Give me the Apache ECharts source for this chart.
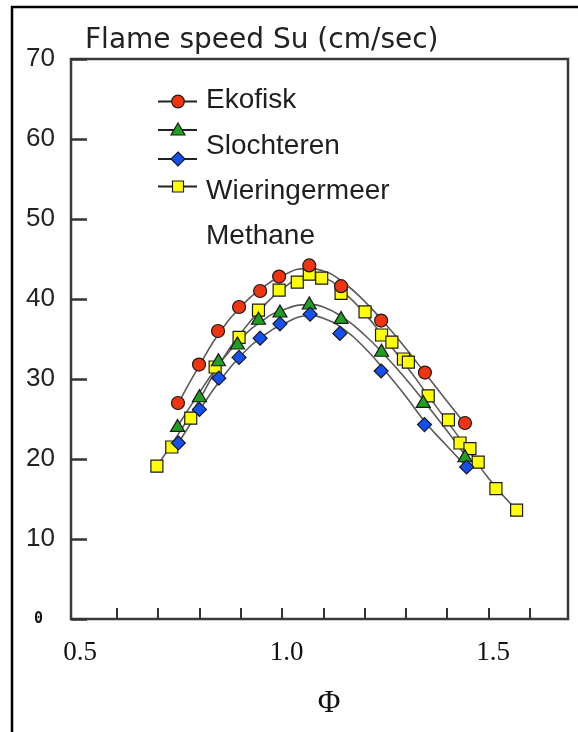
<!DOCTYPE html>
<html>
<head>
<meta charset="utf-8">
<script src="https://cdn.jsdelivr.net/npm/echarts@6/dist/echarts.min.js"></script>
<style>
  html, body { margin: 0; padding: 0; background: #fff; }
  #chart { width: 578px; height: 732px; }
</style>
</head>
<body>
<div id="chart"></div>
<script>
// Laminar flame speed Su (cm/sec) against equivalence ratio Φ

// Measured points, one pair of arrays per gas
const ekofiskPhi = [0.748, 0.799, 0.845, 0.896, 0.947, 0.993, 1.066, 1.143, 1.240, 1.346, 1.443];
const ekofiskSu  = [27.0, 31.8, 36.0, 39.0, 41.0, 42.8, 44.2, 41.6, 37.3, 30.8, 24.5];

const slochterenPhi = [0.747, 0.800, 0.846, 0.892, 0.943, 0.995, 1.066, 1.143, 1.241, 1.342, 1.443];
const slochterenSu  = [24.2, 27.9, 32.4, 34.5, 37.6, 38.5, 39.5, 37.7, 33.6, 27.2, 20.4];

const methanePhi = [0.749, 0.800, 0.847, 0.896, 0.947, 0.995, 1.068, 1.140, 1.240, 1.345, 1.447];
const methaneSu  = [22.0, 26.2, 30.1, 32.7, 35.1, 36.9, 38.1, 35.7, 31.0, 24.3, 19.0];

const wieringermeerPhi = [0.697, 0.733, 0.779, 0.838, 0.896, 0.943, 0.993, 1.037, 1.066, 1.096, 1.143, 1.201,
                          1.241, 1.266, 1.294, 1.306, 1.354, 1.403, 1.431, 1.455, 1.475, 1.518, 1.568];
const wieringermeerSu  = [19.1, 21.5, 25.1, 31.5, 35.2, 38.6, 41.1, 42.1, 43.1, 42.6, 40.7, 38.4,
                          35.5, 34.6, 32.5, 32.1, 27.9, 24.9, 22.0, 21.3, 19.6, 16.3, 13.6];

// Fitted trend curves, sampled along each line
const ekofiskFitPhi = [0.748, 0.80, 0.85, 0.90, 0.95, 1.00, 1.06, 1.10, 1.15, 1.20, 1.25, 1.30, 1.35, 1.40, 1.443];
const ekofiskFitSu  = [26.9, 31.7, 35.9, 39.0, 41.3, 42.9, 43.8, 43.5, 42.0, 39.7, 36.9, 33.8, 30.5, 27.2, 24.4];

const slochterenFitPhi = [0.747, 0.80, 0.85, 0.90, 0.95, 1.00, 1.066, 1.10, 1.15, 1.20, 1.25, 1.30, 1.35, 1.40, 1.443];
const slochterenFitSu  = [24.1, 28.3, 32.0, 35.0, 37.2, 38.6, 39.3, 39.0, 37.6, 35.5, 32.9, 30.0, 26.8, 23.5, 20.5];

const methaneFitPhi = [0.749, 0.80, 0.85, 0.90, 0.95, 1.00, 1.068, 1.10, 1.15, 1.20, 1.25, 1.30, 1.35, 1.40, 1.447];
const methaneFitSu  = [22.0, 26.1, 29.8, 32.9, 35.2, 36.8, 37.9, 37.6, 36.2, 33.9, 31.0, 27.8, 24.4, 21.6, 19.0];

const wieringermeerFitPhi = [0.697, 0.75, 0.80, 0.85, 0.90, 0.95, 1.00, 1.06, 1.10, 1.15, 1.20, 1.25, 1.30, 1.35, 1.40, 1.45, 1.50, 1.568];
const wieringermeerFitSu  = [19.1, 23.2, 27.4, 32.0, 35.7, 38.8, 41.2, 42.8, 42.6, 40.8, 38.2, 35.0, 31.7, 28.2, 24.7, 21.2, 17.6, 13.6];

// Axis ticks and labels
const xTickValues = [0.6, 0.7, 0.8, 0.9, 1.0, 1.1, 1.2, 1.3, 1.4, 1.5, 1.6];
const xLabelValues = [0.5, 1.0, 1.5];
const yTitle = 'Flame speed Su (cm/sec)';
const xTitle = 'Φ';
const legendNames = ['Ekofisk', 'Slochteren', 'Wieringermeer', 'Methane'];

const zip = (a, b) => a.map((v, i) => [v, b[i]]);

const RED = '#f03410', GREEN = '#20a020', BLUE = '#1450f0', YELLOW = '#ffff00';
const EDGE = '#1a1a1a';
const CURVE = '#5a5a5a';

function curve(name, phi, su) {
  return {
    name: name, type: 'line', data: zip(phi, su), smooth: 0.5, showSymbol: false,
    lineStyle: { color: CURVE, width: 1.6 }, z: 1, silent: true
  };
}
function marks(name, phi, su, symbol, size, color, z) {
  return {
    name: name, type: 'scatter', data: zip(phi, su), symbol: symbol, symbolSize: size,
    itemStyle: { color: color, borderColor: EDGE, borderWidth: 1.2, opacity: 1 }, z: z
  };
}

const chart = echarts.init(document.getElementById('chart'), null, { renderer: 'canvas' });

const legendY = [101.5, 130, 159, 186.5];
const lx0 = 158, lx1 = 197, lsx = 178;
const legendGraphics = [];
legendY.forEach(y => legendGraphics.push({
  type: 'line', shape: { x1: lx0, y1: y, x2: lx1, y2: y }, style: { stroke: '#222', lineWidth: 2 }
}));
legendGraphics.push(
  { type: 'circle', shape: { cx: lsx, cy: legendY[0], r: 6.3 }, style: { fill: RED, stroke: EDGE, lineWidth: 1.2 } },
  { type: 'polygon', shape: { points: [[lsx, legendY[1] - 7], [lsx + 7, legendY[1] + 5], [lsx - 7, legendY[1] + 5]] }, style: { fill: GREEN, stroke: EDGE, lineWidth: 1.2 } },
  { type: 'polygon', shape: { points: [[lsx, legendY[2] - 7], [lsx + 7, legendY[2]], [lsx, legendY[2] + 7], [lsx - 7, legendY[2]]] }, style: { fill: BLUE, stroke: EDGE, lineWidth: 1.2 } },
  { type: 'rect', shape: { x: lsx - 5.5, y: legendY[3] - 5.5, width: 11, height: 11 }, style: { fill: YELLOW, stroke: EDGE, lineWidth: 1.2 } }
);
const legendTextY = [100, 146.5, 191.5, 236.5];
legendNames.forEach((n, i) => legendGraphics.push({
  type: 'text', x: 206, y: legendTextY[i],
  style: { text: n, fontFamily: 'Liberation Sans', fontSize: 28, fill: '#1e1e1e', verticalAlign: 'middle', align: 'left' }
}));

chart.setOption({
  animation: false,
  backgroundColor: '#ffffff',
  title: {
    text: yTitle, left: 80, top: 22,
    textStyle: { fontFamily: 'DejaVu Sans', fontSize: 28, fontWeight: 'normal', color: '#222' }
  },
  grid: { left: 71, top: 59, right: 10, bottom: 113, show: true, borderColor: '#3a3a3a', borderWidth: 2.5, backgroundColor: 'transparent' },
  xAxis: {
    type: 'value', min: 0.489, max: 1.6925,
    axisLine: { show: false },
    splitLine: { show: false },
    axisTick: { show: true, inside: true, length: 11, lineStyle: { color: '#333', width: 2 }, customValues: xTickValues },
    axisLabel: {
      customValues: xLabelValues, formatter: v => v.toFixed(1),
      fontFamily: 'Liberation Serif', fontSize: 27, color: '#111', margin: 20, padding: [0, 0, 0, 9]
    }
  },
  yAxis: {
    type: 'value', min: 0, max: 70, interval: 10,
    axisLine: { show: false },
    splitLine: { show: false },
    axisTick: { show: true, inside: true, length: 16, lineStyle: { color: '#333', width: 2.5 } },
    axisLabel: {
      fontFamily: 'Liberation Sans', fontSize: 26, color: '#222', margin: 16,
      formatter: v => (v === 0 ? '{z|0}' : String(v)),
      rich: { z: { fontFamily: 'DejaVu Sans Mono', fontSize: 15, fontWeight: 'bold', color: '#111', padding: [0, 12, 0, 0] } }
    }
  },
  graphic: [
    { type: 'line', shape: { x1: 11, y1: 7, x2: 578, y2: 7 }, style: { stroke: '#000', lineWidth: 2.5 } },
    { type: 'line', shape: { x1: 12, y1: 6, x2: 12, y2: 732 }, style: { stroke: '#000', lineWidth: 2.5 } },
    { type: 'text', x: 329, y: 704, style: { text: xTitle, fontFamily: 'Liberation Serif', fontSize: 31, fill: '#111', align: 'center', verticalAlign: 'middle' } }
  ].concat(legendGraphics),
  series: [
    curve('Wieringermeer', wieringermeerFitPhi, wieringermeerFitSu),
    curve('Ekofisk', ekofiskFitPhi, ekofiskFitSu),
    curve('Slochteren', slochterenFitPhi, slochterenFitSu),
    curve('Methane', methaneFitPhi, methaneFitSu),
    marks('Wieringermeer', wieringermeerPhi, wieringermeerSu, 'rect', 12, YELLOW, 3),
    marks('Ekofisk', ekofiskPhi, ekofiskSu, 'circle', 13, RED, 4),
    marks('Slochteren', slochterenPhi, slochterenSu, 'triangle', [14, 12], GREEN, 5),
    marks('Methane', methanePhi, methaneSu, 'diamond', [14, 14], BLUE, 6)
  ]
});
</script>
</body>
</html>
